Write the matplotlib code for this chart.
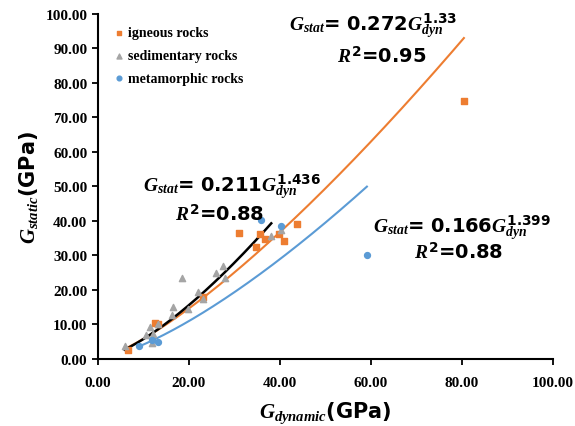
import matplotlib
matplotlib.use("Agg")
import matplotlib.pyplot as plt
import numpy as np

plt.rcParams['font.family'] = 'Liberation Serif'
plt.rcParams['mathtext.fontset'] = 'custom'
plt.rcParams['mathtext.it'] = 'Liberation Serif:italic:bold'
plt.rcParams['mathtext.rm'] = 'DejaVu Sans:bold'
plt.rcParams['mathtext.bf'] = 'DejaVu Sans:bold'

# DATA
igneous_x = [6.7, 12.6, 13.3, 23.1, 31.0, 34.8, 35.6, 36.8, 39.8, 41.0, 43.8, 80.4]
igneous_y = [2.7, 10.4, 10.2, 17.9, 36.5, 32.5, 36.3, 34.9, 36.3, 34.2, 39.2, 74.7]
sed_x = [5.9, 10.6, 11.5, 11.9, 12.2, 13.3, 16.5, 16.3, 18.6, 19.9, 22.1, 23.2, 25.9, 27.6, 27.9, 38.1, 40.3]
sed_y = [3.9, 6.8, 9.2, 4.7, 7.3, 10.0, 15.2, 12.6, 23.4, 14.5, 19.4, 17.4, 24.9, 26.8, 23.4, 35.7, 37.5]
meta_x = [9.0, 12.0, 13.3, 35.9, 40.3, 59.1]
meta_y = [3.9, 5.5, 4.8, 40.4, 38.5, 30.2]

# power-law fits y = a * x^b as printed on the chart
fit_ign = (0.272, 1.33)
fit_meta = (0.166, 1.399)
fit_all = (0.211, 1.436)

orange = '#ED7D31'
gray = '#A5A5A5'
blue = '#5B9BD5'

fig, ax = plt.subplots(figsize=(5.75, 4.27), dpi=100)
fig.subplots_adjust(left=0.170, right=0.962, bottom=0.157, top=0.965)

ax.scatter(igneous_x, igneous_y, marker='s', s=18, color=orange, label='igneous rocks', zorder=3)
ax.scatter(sed_x, sed_y, marker='^', s=20, color=gray, label='sedimentary rocks', zorder=3)
ax.scatter(meta_x, meta_y, marker='o', s=18, color=blue, label='metamorphic rocks', zorder=3)

def trend(xs, a, b):
    x = np.linspace(min(xs), max(xs), 200)
    return x, a * x ** b

x, y = trend(igneous_x, *fit_ign)
ax.plot(x, y, color=orange, lw=1.5, zorder=2)
x, y = trend(meta_x, *fit_meta)
ax.plot(x, y, color=blue, lw=1.5, zorder=2)
x, y = trend(sed_x[:-1], *fit_all)
ax.plot(x, y, color='black', lw=1.8, zorder=2)

eq_kw = dict(fontsize=14, fontweight='bold', family='DejaVu Sans')
ax.text(42.0, 95.5, r'$G_{stat}$= 0.272$G_{dyn}^{1.33}$', **eq_kw)
ax.text(52.5, 86, r'$R^2$=0.95', **eq_kw)
ax.text(60.5, 37.0, r'$G_{stat}$= 0.166$G_{dyn}^{1.399}$', **eq_kw)
ax.text(69.5, 29.3, r'$R^2$=0.88', **eq_kw)
ax.text(10.0, 49.0, r'$G_{stat}$= 0.211$G_{dyn}^{1.436}$', **eq_kw)
ax.text(17.0, 40.2, r'$R^2$=0.88', **eq_kw)

ax.set_xlim(0, 100)
ax.set_ylim(0, 100)
ax.set_xticks(np.arange(0, 101, 20))
ax.set_yticks(np.arange(0, 101, 10))
ax.xaxis.set_major_formatter(matplotlib.ticker.FormatStrFormatter('%.2f'))
ax.yaxis.set_major_formatter(matplotlib.ticker.FormatStrFormatter('%.2f'))
for lab in ax.get_xticklabels() + ax.get_yticklabels():
    lab.set_fontweight('bold')
    lab.set_fontsize(11)
ax.tick_params(direction='out', length=4, width=1.3)
ax.tick_params(axis='x', pad=8)

for s in ['top', 'right']:
    ax.spines[s].set_visible(False)
for s in ['left', 'bottom']:
    ax.spines[s].set_linewidth(1.5)

ax.set_xlabel(r'$G_{dynamic}$(GPa)', fontsize=15, fontweight='bold', family='DejaVu Sans', labelpad=8)
ax.set_ylabel(r'$G_{static}$(GPa)', fontsize=15, fontweight='bold', family='DejaVu Sans')

leg = ax.legend(loc='upper left', bbox_to_anchor=(0.005, 1.0), frameon=False,
                prop={'weight': 'bold', 'size': 10}, handletextpad=0.1,
                handlelength=1.0, markerscale=0.8, labelspacing=0.7)

fig.savefig('out.png', dpi=100)
